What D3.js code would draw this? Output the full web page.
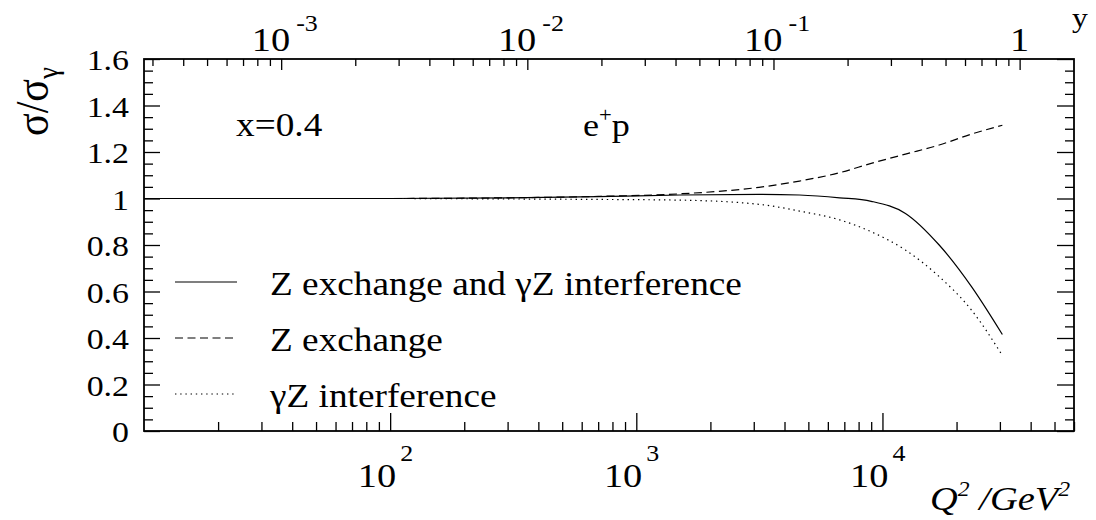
<!DOCTYPE html>
<html>
<head>
<meta charset="utf-8">
<script src="https://cdn.jsdelivr.net/npm/d3@7"></script>
<style>
  body { margin: 0; background: #fff; }
  svg { display: block; }
  svg text { font-family: Liberation Serif, Tinos, Times New Roman, Times, Nimbus Roman, FreeSerif, DejaVu Serif, serif !important; }
</style>
</head>
<body>
<svg id="chart" width="1096" height="520"></svg>
<script>
// Cross-section ratio sigma/sigma_gamma versus Q^2 at fixed x, for e+ p
const q2 = [10, 100, 300, 700, 1500, 3150, 4600, 6700, 9000, 12400, 17000, 23000, 30700];
const fullRatio = [1.000, 1.000, 1.003, 1.008, 1.015, 1.018, 1.015, 1.003, 0.988, 0.936, 0.800, 0.621, 0.415];
const zExchange = [1.000, 1.000, 1.003, 1.009, 1.020, 1.048, 1.075, 1.111, 1.151, 1.191, 1.230, 1.277, 1.315];
const interference = [1.000, 1.000, 0.998, 0.996, 0.993, 0.975, 0.946, 0.908, 0.857, 0.778, 0.664, 0.520, 0.325];

const q2Ticks = [100, 1000, 10000];
const q2TickExp = ["2", "3", "4"];
const yTicks = [0.001, 0.01, 0.1, 1];
const yTickExp = ["-3", "-2", "-1", ""];
const ratioTicks = [0, 0.2, 0.4, 0.6, 0.8, 1.0, 1.2, 1.4, 1.6];
const ratioTickLabels = ["0", "0.2", "0.4", "0.6", "0.8", "1", "1.2", "1.4", "1.6"];
const legendLabels = ["Z exchange and \u03b3Z interference", "Z exchange", "\u03b3Z interference"];
const legendDash = [null, "8,4.5", "1.4,3.8"];

// kinematics: y = Q^2 / (x s)
const xBj = 0.4;
const sCM = 90200;
const q2Min = 10, q2Max = 60000;

const L = 144, R = 1074, T = 59, B = 431;
const SX = 1.13; // horizontal text stretch
const FONT = "Liberation Serif, Tinos, Times New Roman, Times, Nimbus Roman, FreeSerif, DejaVu Serif, serif";

const svg = d3.select("#chart");

const x = d3.scaleLog().domain([q2Min, q2Max]).range([L, R]);
const xKin = d3.scaleLog().domain([q2Min / (xBj * sCM), q2Max / (xBj * sCM)]).range([L, R]);
const y = d3.scaleLinear().domain([0, 1.6]).range([B, T]);

function minorLog(scale) {
  const [a, b] = scale.domain();
  const out = [];
  for (let k = Math.floor(Math.log10(a)); k <= Math.ceil(Math.log10(b)); k++) {
    for (let m = 2; m <= 9; m++) {
      const v = m * Math.pow(10, k);
      if (v >= a && v <= b) out.push(v);
    }
  }
  return out;
}
const ratioMinor = d3.range(0, 1.6001, 0.05).filter(v => Math.abs(v / 0.2 - Math.round(v / 0.2)) > 1e-6);

function styleAxis(g) {
  g.select(".domain").remove();
  g.selectAll(".tick line").attr("stroke", "#000").attr("stroke-width", 1.3);
  g.selectAll(".tick text").remove();
}

// bottom Q^2 axis (ticks point inward)
svg.append("g").attr("transform", `translate(0,${B})`)
  .call(d3.axisTop(x).tickValues(q2Ticks).tickSize(18).tickFormat("")).call(styleAxis);
svg.append("g").attr("transform", `translate(0,${B})`)
  .call(d3.axisTop(x).tickValues(minorLog(x)).tickSize(9).tickFormat("")).call(styleAxis);
// top y axis
svg.append("g").attr("transform", `translate(0,${T})`)
  .call(d3.axisBottom(xKin).tickValues(yTicks).tickSize(11).tickFormat("")).call(styleAxis);
svg.append("g").attr("transform", `translate(0,${T})`)
  .call(d3.axisBottom(xKin).tickValues(minorLog(xKin)).tickSize(7).tickFormat("")).call(styleAxis);
// left and right ratio axes
svg.append("g").attr("transform", `translate(${L},0)`)
  .call(d3.axisRight(y).tickValues(ratioTicks).tickSize(16).tickFormat("")).call(styleAxis);
svg.append("g").attr("transform", `translate(${L},0)`)
  .call(d3.axisRight(y).tickValues(ratioMinor).tickSize(9).tickFormat("")).call(styleAxis);
svg.append("g").attr("transform", `translate(${R},0)`)
  .call(d3.axisLeft(y).tickValues(ratioTicks).tickSize(17).tickFormat("")).call(styleAxis);
svg.append("g").attr("transform", `translate(${R},0)`)
  .call(d3.axisLeft(y).tickValues(ratioMinor).tickSize(9).tickFormat("")).call(styleAxis);

// frame
svg.append("rect").attr("x", L).attr("y", T).attr("width", R - L).attr("height", B - T)
  .attr("fill", "none").attr("stroke", "#000").attr("stroke-width", 1.8);

// text helper with horizontal stretch
function textAt(px, py, size, anchor) {
  const g = svg.append("g").attr("transform", `translate(${px},${py}) scale(${SX},1)`);
  return g.append("text").attr("text-anchor", anchor).attr("font-size", size)
    .style("font-family", FONT).attr("fill", "#000");
}
function label(px, py, str, size, anchor) {
  return textAt(px, py, size, anchor).text(str);
}

// bottom tick labels 10^n
q2Ticks.forEach((v, i) => {
  const px = x(v);
  label(px + 6, 487, "10", 34, "end");
  label(px + 10, 461, q2TickExp[i], 23, "start");
});
// top tick labels
yTicks.forEach((v, i) => {
  const px = xKin(v);
  if (yTickExp[i]) {
    label(px + 9, 51, "10", 34, "end");
    label(px + 15, 31, yTickExp[i], 23, "start");
  } else {
    label(px, 51, "1", 34, "middle");
  }
});
// left tick labels
ratioTicks.forEach((v, i) => {
  label(129, y(v) + 11, ratioTickLabels[i], 30, "end");
});

// axis titles
label(1072, 27, "y", 28, "start");
{
  const t = textAt(930, 510, 34, "start").attr("font-style", "italic");
  t.append("tspan").text("Q");
  t.append("tspan").attr("font-size", 21).attr("dy", -14).text("2");
  t.append("tspan").attr("dy", 14).text(" /GeV");
  t.append("tspan").attr("font-size", 21).attr("dy", -14).text("2");
}
{
  const g = svg.append("g").attr("transform", `translate(48,136) scale(${SX},1) rotate(-90)`);
  const t = g.append("text").attr("font-size", 42).style("font-family", FONT);
  t.append("tspan").text("\u03c3/\u03c3");
  t.append("tspan").attr("font-size", 27).attr("dy", 9).text("\u03b3");
}

// annotations
label(236, 136, "x=0.4", 33, "start");
{
  const t = textAt(583, 136, 32, "start");
  t.append("tspan").text("e");
  t.append("tspan").attr("font-size", 20).attr("dy", -14).text("+");
  t.append("tspan").attr("dy", 14).text("p");
}

// curves
const series = [fullRatio, zExchange, interference];
const line = d3.line().x(d => x(d[0])).y(d => y(d[1])).curve(d3.curveMonotoneX);
series.forEach((vals, i) => {
  svg.append("path")
    .datum(q2.map((q, j) => [q, vals[j]]))
    .attr("d", line)
    .attr("fill", "none")
    .attr("stroke", "#000")
    .attr("stroke-width", 1.2)
    .attr("stroke-dasharray", legendDash[i]);
});

// legend
const legY = [282, 338, 394];
legendLabels.forEach((name, i) => {
  svg.append("line").attr("x1", 175).attr("x2", 237).attr("y1", legY[i]).attr("y2", legY[i])
    .attr("stroke", "#000").attr("stroke-width", 1.2).attr("stroke-dasharray", legendDash[i]);
  label(270, legY[i] + 13, name, 33, "start");
});
</script>
</body>
</html>
